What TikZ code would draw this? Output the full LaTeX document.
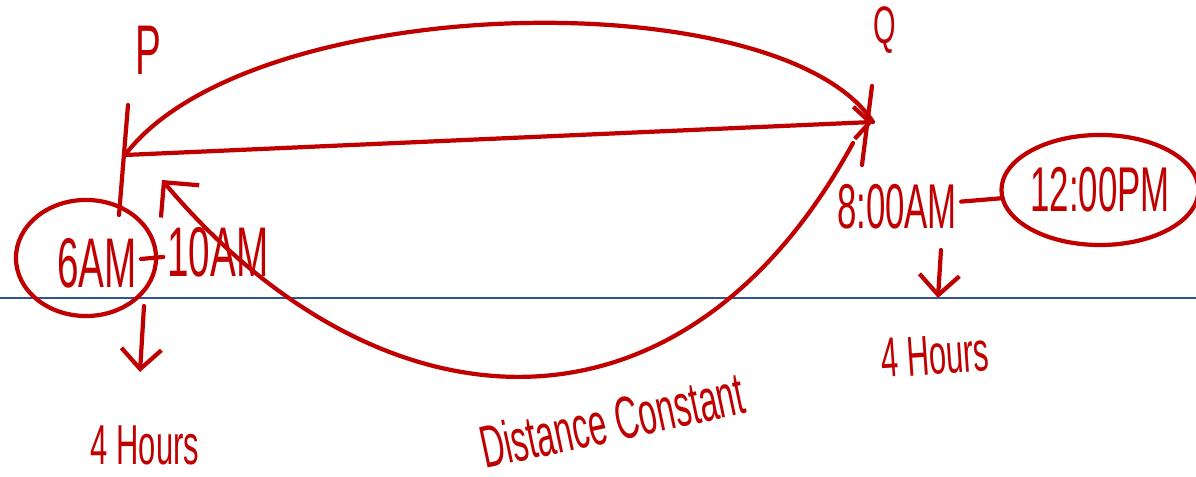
\documentclass[tikz,border=0pt]{standalone}
\usepackage{fontspec}
\usepackage{xcolor}
\usetikzlibrary{arrows.meta,shapes.geometric}
\newfontfamily\handfont[FakeStretch=0.55]{Liberation Sans}
\definecolor{ink}{HTML}{C00000}
\definecolor{rule}{HTML}{2F5496}
\tikzset{
  pen/.style={ink, line width=1.2pt, line cap=round, line join=round},
  hand/.style={text=ink, inner sep=1pt, font=\handfont\fontsize{#1pt}{#1pt}\selectfont},
  ring/.style={pen, draw, ellipse, inner sep=0pt},
  barb/.style={-{Straight Barb[length=2mm,width=4mm]}},
}

\begin{document}
\begin{tikzpicture}[x=0.01cm, y=-0.01cm]
  \useasboundingbox (0,0) rectangle (1196,477);
  \draw[rule, line width=0.7pt] (0,298) -- (1196,298);

  % the two places
  \coordinate (pA) at (125,155);
  \coordinate (qA) at (873,122);
  \coordinate (pTop) at (128,105);
  \coordinate (pBot) at (119,215);
  \coordinate (qTop) at (872,86);
  \coordinate (qBot) at (862,165);
  \node[hand=20] (plab) at (148,50) {P};
  \node[hand=15] (qlab) at (885,30) {Q};
  \draw[pen] (pTop) -- (pBot);
  \draw[pen] (qTop) -- (qBot);

  % there and back
  \draw[pen, -{Straight Barb[length=1.6mm,width=3.2mm]}] (pA) -- (qA);
  \draw[pen] (pA) .. controls (250,-10) and (780,-20) .. (qA);
  \coordinate (qLow) at (853,143);
  \coordinate (pLow) at (162,180);
  \draw[pen, -{Straight Barb[length=2.5mm,width=5mm]}] (qLow) .. controls (680,460) and (378,436) .. (pLow);

  % times at P
  \node[hand=20] (six) at (97,263) {6AM};
  \draw[pen] (86,258) ellipse [x radius=0.7cm, y radius=0.58cm];
  \node[hand=20] (ten) at (218,252) {10AM};
  \draw[pen] (six) -- (ten);
  \coordinate (dLtop) at (144,306);
  \coordinate (dLbot) at (140,372);
  \draw[pen, barb] (dLtop) -- (dLbot);
  \node[hand=16] (hoursL) at (145,445) {4 Hours};

  % times at Q
  \node[hand=18] (eight) at (897,207) {8:00AM};
  \node[hand=18, ring, minimum width=1.9cm, minimum height=1.1cm] (twelve) at (1100,190) {12:00PM};
  \draw[pen] (eight) -- (twelve);
  \coordinate (dRtop) at (941,250);
  \coordinate (dRbot) at (938,298);
  \draw[pen, barb] (dRtop) -- (dRbot);
  \node[hand=16, rotate=4] (hoursR) at (935,355) {4 Hours};

  \node[hand=17, rotate=12] (dist) at (612,420) {Distance Constant};
\end{tikzpicture}
\end{document}
